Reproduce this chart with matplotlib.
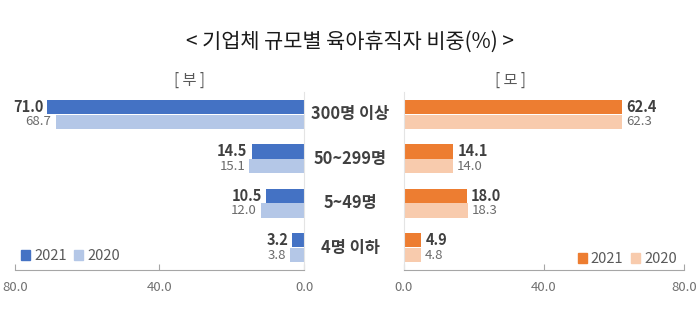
import matplotlib.pyplot as plt
from matplotlib.patches import Patch

plt.rcParams['font.family'] = ['Noto Sans CJK KR', 'DejaVu Sans']

# 기업체 규모별 육아휴직자 비중 (%)
sizes = ['300명 이상', '50~299명', '5~49명', '4명 이하']
father_2021 = [71.0, 14.5, 10.5, 3.2]
father_2020 = [68.7, 15.1, 12.0, 3.8]
mother_2021 = [62.4, 14.1, 18.0, 4.9]
mother_2020 = [62.3, 14.0, 18.3, 4.8]
years = ['2021', '2020']
ticks = [0, 40, 80]

blue = ['#4472C4', '#B4C7E7']
orange = ['#ED7D31', '#F8CBAD']

fig = plt.figure(figsize=(7, 3.3), dpi=100)
bottom, height = 0.182, 0.539
ax_l = fig.add_axes([0.0214, bottom, 0.4129, height])
ax_r = fig.add_axes([0.5771, bottom, 0.4, height])

pos = list(range(len(sizes)))
bh = 0.325
off = 0.168


def draw(ax, v21, v20, colors, left):
    y21 = [p - off for p in pos]
    y20 = [p + off for p in pos]
    ax.barh(y21, v21, height=bh, color=colors[0])
    ax.barh(y20, v20, height=bh, color=colors[1])
    ax.set_xlim(0, 80)
    ax.set_ylim(3.5, -0.5)
    if left:
        ax.invert_xaxis()
    ha = 'right' if left else 'left'
    pad = 1.2
    for y, v in zip(y21, v21):
        ax.text(v + pad, y, f'{v:.1f}', ha=ha, va='center', fontsize=10.5,
                fontweight='bold', color='#404040')
    for y, v in zip(y20, v20):
        ax.text(v + pad, y, f'{v:.1f}', ha=ha, va='center', fontsize=9.5,
                color='#6b6b6b')
    for s in ['top', 'left', 'right']:
        ax.spines[s].set_visible(False)
    ax.spines['bottom'].set_color('#a6a6a6')
    inner = 'right' if left else 'left'
    ax.spines[inner].set_visible(True)
    ax.spines[inner].set_color('#e4e4e4')
    ax.set_xticks(ticks)
    ax.set_xticklabels([f'{t:.1f}' for t in ticks])
    ax.tick_params(axis='x', direction='in', length=4, color='#a6a6a6',
                   labelsize=9.5, labelcolor='#707070', pad=8)
    ax.set_yticks([])


draw(ax_l, father_2021, father_2020, blue, True)
draw(ax_r, mother_2021, mother_2020, orange, False)

# 규모 구분 라벨 (가운데)
for p, name in zip(pos, sizes):
    y = bottom + height * (3.5 - p) / 4
    fig.text(0.5, y, name, ha='center', va='center', fontsize=11.8,
             fontweight='bold', color='#404040')

fig.text(0.5, 0.872, '< 기업체 규모별 육아휴직자 비중(%) >', ha='center',
         va='center', fontsize=15, color='#1a1a1a')
fig.text(0.27, 0.758, '[ 부 ]', ha='center', va='center', fontsize=11,
         color='#595959')
fig.text(0.729, 0.758, '[ 모 ]', ha='center', va='center', fontsize=11,
         color='#595959')

for colors, x, y in [(blue, 0.02, 0.224), (orange, 0.815, 0.215)]:
    handles = [Patch(color=c, label=yr) for c, yr in zip(colors, years)]
    fig.legend(handles=handles, ncol=2, frameon=False, loc='center left',
               bbox_to_anchor=(x, y),
               handlelength=0.6, handleheight=0.6, handletextpad=0.3,
               columnspacing=0.5, borderpad=0, fontsize=10.5,
               labelcolor='#595959')

fig.savefig('out.png', dpi=100)
